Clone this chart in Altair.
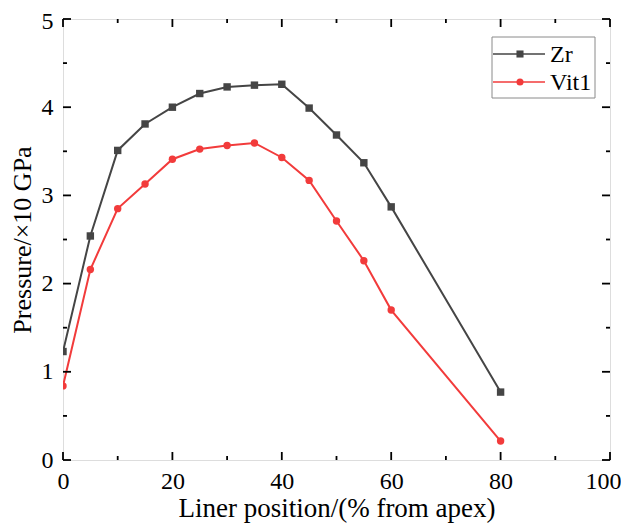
import altair as alt
import pandas as pd

positions = [0, 5, 10, 15, 20, 25, 30, 35, 40, 45, 50, 55, 60, 80]
zr = [1.23, 2.54, 3.51, 3.81, 4.00, 4.155, 4.23, 4.25, 4.26, 3.99, 3.685, 3.37, 2.87, 0.77]
vit1 = [0.84, 2.16, 2.85, 3.13, 3.41, 3.525, 3.565, 3.595, 3.43, 3.17, 2.71, 2.26, 1.70, 0.215]
series = ["Zr", "Vit1"]
colors = ["#454545", "#f23b3b"]
shapes = ["square", "circle"]

x_major = [0, 20, 40, 60, 80, 100]
x_minor = [10, 30, 50, 70, 90]
y_major = [0, 1, 2, 3, 4, 5]
y_minor = [0.5, 1.5, 2.5, 3.5, 4.5]

W, H = 547, 441
FONT = "Liberation Serif"

rows = []
for p, a, b in zip(positions, zr, vit1):
    rows.append({"x": p, "y": a, "series": "Zr"})
    rows.append({"x": p, "y": b, "series": "Vit1"})
df = pd.DataFrame(rows)

xscale = alt.Scale(domain=[0, 100], nice=False, zero=False)
yscale = alt.Scale(domain=[0, 5], nice=False, zero=False)
xaxis = alt.Axis(values=x_major, ticks=False, tickSize=0, domain=False, grid=False,
                 labelFlush=False, labelOverlap=False,
                 labelOffset={"condition": {"test": "datum.value == 100", "value": -7}, "value": 0},
                 labelFont=FONT, labelFontSize=24, labelColor="black", labelPadding=9,
                 title="Liner position/(% from apex)", titleFont=FONT, titleFontSize=27,
                 titleFontWeight="normal", titleColor="black", titlePadding=2)
yaxis = alt.Axis(values=y_major, ticks=False, tickSize=0, domain=False, grid=False,
                 labelFlush=False, labelOverlap=False,
                 labelOffset={"condition": {"test": "datum.value == 5", "value": 2}, "value": 0},
                 labelFont=FONT, labelFontSize=24, labelColor="black", labelPadding=10,
                 title="Pressure/×10 GPa", titleFont=FONT, titleFontSize=26,
                 titleFontWeight="normal", titleColor="black", titlePadding=6)
xenc = alt.X("x:Q", scale=xscale, axis=xaxis)
yenc = alt.Y("y:Q", scale=yscale, axis=yaxis)

color = alt.Color("series:N", scale=alt.Scale(domain=series, range=colors), legend=None)
shape = alt.Shape("series:N", scale=alt.Scale(domain=series, range=shapes), legend=None)

lines = alt.Chart(df).mark_line(strokeWidth=2, clip=True).encode(
    x=xenc, y=yenc, color=color, detail="series:N")
points = alt.Chart(df).mark_point(filled=True, size=55, opacity=1, clip=True).encode(
    x=xenc, y=yenc, color=color, shape=shape)

def xticks(vals, length, top):
    d = pd.DataFrame({"x": vals})
    y0 = 0 if top else H
    y1 = length if top else H - length
    return alt.Chart(d).mark_rule(color="black", strokeWidth=1.8).encode(
        x=xenc, y=alt.value(y0), y2=alt.value(y1))

def yticks(vals, length, right):
    d = pd.DataFrame({"y": vals})
    x0 = W if right else 0
    x1 = W - length if right else length
    return alt.Chart(d).mark_rule(color="black", strokeWidth=1.8).encode(
        y=yenc, x=alt.value(x0), x2=alt.value(x1))

ticks = [
    xticks(x_major, 8, False), xticks(x_minor, 4, False),
    xticks(x_major, 8, True), xticks(x_minor, 4, True),
    yticks(y_major, 8, False), yticks(y_minor, 4, False),
    yticks(y_major, 8, True), yticks(y_minor, 4, True),
]

# legend
lg_box = alt.Chart(pd.DataFrame({"k": [0]})).mark_rect(
    fill="white", stroke="#8a8a8a", strokeWidth=1).encode(
    x=alt.value(429), x2=alt.value(532), y=alt.value(18), y2=alt.value(79))
legend_layers = [lg_box]
row_y = [35, 63]
for name, c, s, ry in zip(series, colors, shapes, row_y):
    d = pd.DataFrame({"series": [name]})
    legend_layers.append(alt.Chart(d).mark_rule(color=c, strokeWidth=1.6).encode(
        x=alt.value(430), x2=alt.value(482), y=alt.value(ry)))
    legend_layers.append(alt.Chart(d).mark_point(filled=True, size=50, opacity=1, color=c, shape=s).encode(
        x=alt.value(457), y=alt.value(ry)))
    legend_layers.append(alt.Chart(d).mark_text(align="left", baseline="middle", font=FONT,
                                                fontSize=24, color="black").encode(
        x=alt.value(487), y=alt.value(ry + 1), text="series:N"))

chart = alt.layer(lines, points, *ticks, *legend_layers).properties(
    width=W, height=H,
    padding={"left": 55, "top": 11, "right": 11, "bottom": 64},
    autosize=alt.AutoSizeParams(type="none"),
).configure_view(stroke="black", strokeWidth=1.8).configure(background="white")

chart.save("out.html", embed_options={"renderer": "svg", "actions": False})
